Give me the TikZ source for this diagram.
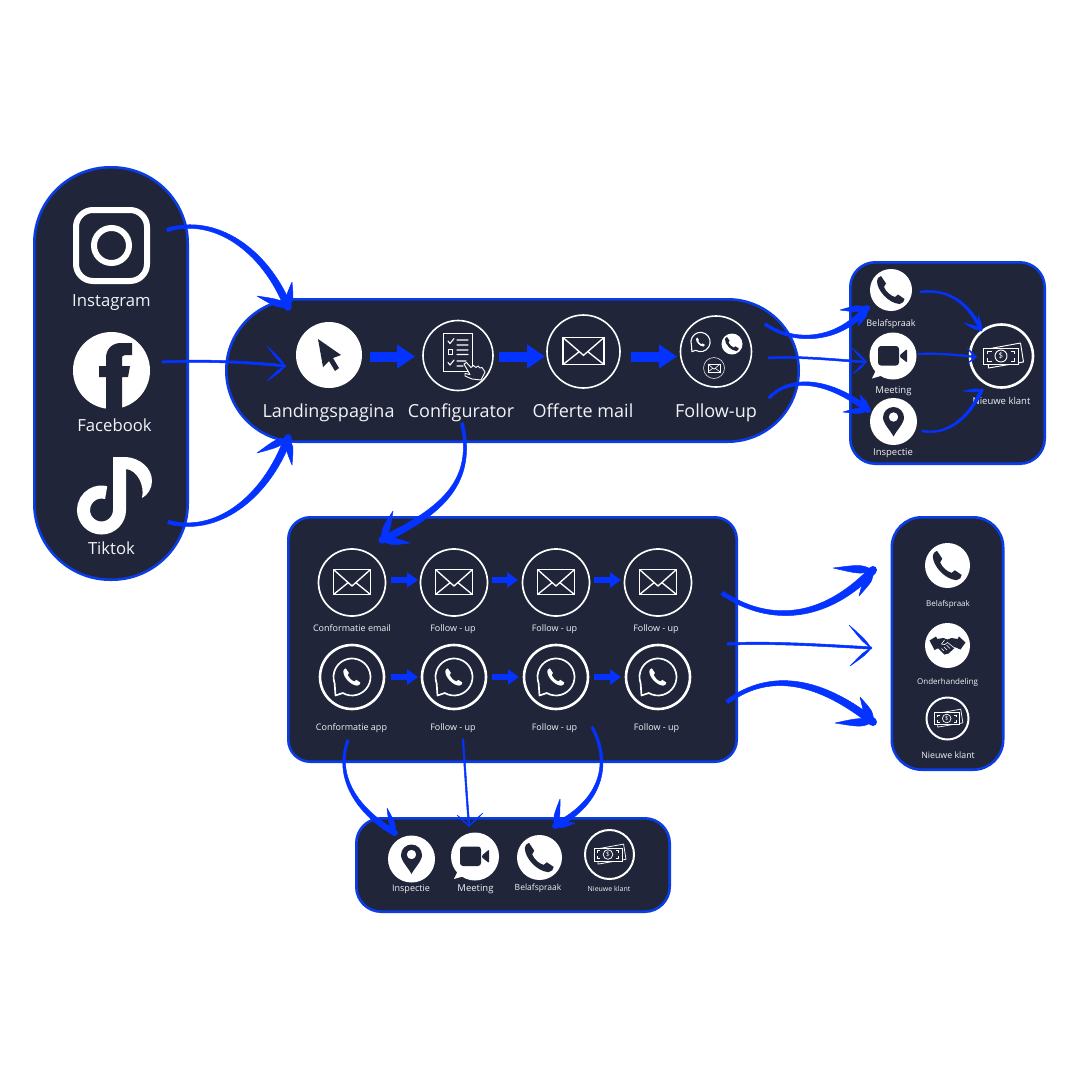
\documentclass[tikz,border=0pt]{standalone}
\usepackage{fontspec}
\setmainfont{Open Sans}
\usetikzlibrary{calc,arrows.meta}
\definecolor{panel}{HTML}{20253A}
\definecolor{edge}{HTML}{0B3DE6}
\definecolor{hblue}{HTML}{0433FF}
\definecolor{txt}{HTML}{F2F3F6}
\tikzset{
  box/.style={draw=edge,fill=panel,line width=2.6pt,rectangle,inner sep=0pt,outer sep=0pt},
  disc/.style={circle,fill=white,inner sep=0pt,outer sep=0pt,minimum size=#1},
  ring/.style={circle,draw=white,fill=panel,inner sep=0pt,outer sep=0pt,minimum size=#1},
  lab/.style={text=txt,inner sep=0pt,anchor=base,font=\fontsize{#1}{#1}\selectfont},
  hand/.style={fill=hblue,draw=hblue,line width=.5pt,line join=round},
  blockbig/.style={draw=hblue,line width=10pt,-{Triangle[length=18pt,width=23pt]}},
  blocksmall/.style={draw=hblue,line width=6.5pt,-{Triangle[length=11pt,width=15pt]}},
  ico/.style={line join=round,line cap=round},
}
% tapered hand-drawn connector: start, c1, c2, end, w0, w1, barb1, barb2, barb width
\newcommand{\handarrow}[9]{%
  \coordinate (hA) at (#1);\coordinate (hC) at (#2);\coordinate (hD) at (#3);\coordinate (hB) at (#4);
  \pgfmathsetmacro{\hwa}{#5}\pgfmathsetmacro{\hwb}{#6}\pgfmathsetmacro{\hwc}{#5*.6+#6*.4}\pgfmathsetmacro{\hwd}{#5*.15+#6*.85}
  \path[hand] ($(hA)!\hwa pt!90:(hC)$) .. controls ($(hC)!\hwc pt!90:(hD)$) and ($(hD)!\hwd pt!90:(hB)$) .. ($(hB)!\hwb pt!-90:(hD)$)
     -- ($(hB)!\hwb pt!90:(hD)$) .. controls ($(hD)!\hwd pt!-90:(hB)$) and ($(hC)!\hwc pt!-90:(hD)$) .. ($(hA)!\hwa pt!-90:(hC)$) -- cycle;
  \fill[hblue] (hB) circle[radius=\hwb*1.05];
  \coordinate (hE) at (#7);\coordinate (hF) at (#8);
  \coordinate (hM) at ($(hB)!.3!(hE)$);
  \path[hand] (hB) .. controls ($(hM)!#9pt!90:(hE)$) .. (hE) .. controls ($(hM)!#9pt!-90:(hE)$) .. (hB);
  \coordinate (hM) at ($(hB)!.3!(hF)$);
  \path[hand] (hB) .. controls ($(hM)!#9pt!90:(hF)$) .. (hF) .. controls ($(hM)!#9pt!-90:(hF)$) .. (hB);
}
\newcommand{\phoneglyph}[4]{\begin{scope}[shift={(#1,#2)},scale=#3]
  \fill[#4] (-10,-14) -- (-5,-6.5) -- (-7,-3) .. controls (-5,2) and (0,6) .. (4,7) -- (7,4.5) -- (13.5,9) .. controls (13.5,11) and (11.5,14) .. (8.5,14) .. controls (-3,13) and (-14,0) .. (-14,-9) .. controls (-14,-11) and (-12.5,-13.5) .. (-10,-14) -- cycle;
\end{scope}}
\newcommand{\envglyph}[5]{\begin{scope}[shift={(#1,#2)}]% cx cy w h lw
  \draw[white,line width=#5pt,line join=miter] (-#3/2,-#4/2) rectangle (#3/2,#4/2);
  \draw[white,line width=.75*#5pt] (-#3/2,-#4/2) -- (0,#4*.16) -- (#3/2,-#4/2) (-#3/2,#4/2) -- (-#3*.1,#4*.02) (#3/2,#4/2) -- (#3*.1,#4*.02);
\end{scope}}
\newcommand{\waglyph}[4]{\begin{scope}[shift={(#1,#2)},scale=#3]% r=18.5 at scale 1
  \draw[white,line width=#4pt,line join=round] (-9.25,16) arc[start angle=120,end angle=-200,radius=18.5] -- (-16.5,18.5) -- cycle;
  \phoneglyph{0}{0}{.62}{white}
\end{scope}}
\newcommand{\pinglyph}[3]{\begin{scope}[shift={(#1,#2)},scale=#3]
  \fill[panel,even odd rule] (0,15) .. controls (-3,9) and (-10.5,2) .. (-10.5,-4) arc[start angle=180,end angle=360,radius=10.5] .. controls (10.5,2) and (3,9) .. (0,15) -- cycle (0,-4.5) circle[radius=4.8];
\end{scope}}
\newcommand{\camglyph}[3]{\begin{scope}[shift={(#1,#2)},scale=#3]
  \fill[white] (-21,22.5) -- (-16,12) -- (-9,19) -- cycle;
  \fill[panel,rounded corners=3pt] (-15,-10) rectangle (6,9.5);
  \fill[panel,rounded corners=1pt] (7,-1) -- (14,-7) -- (14,6.5) -- (7,1) -- cycle;
\end{scope}}
\newcommand{\moneyglyph}[3]{\begin{scope}[shift={(#1,#2)},scale=#3]
  \pgfmathsetmacro{\mlw}{.95*#3}\pgfmathsetmacro{\mfs}{8*#3}
  \draw[white,line width=\mlw pt,fill=panel,line join=round] (-16,-7) -- (17,-13) -- (20,6) -- (-15,12) -- cycle;
  \draw[white,line width=\mlw pt,fill=panel] (-20,-8) rectangle (15,8);
  \draw[white,line width=\mlw pt] (-16,-2) -- (-16,-5) -- (-12,-5) (11,-2) -- (11,-5) -- (7,-5) (-16,2) -- (-16,5) -- (-12,5) (11,2) -- (11,5) -- (7,5);
  \draw[white,line width=\mlw pt] (-2.5,0) circle[radius=6];
  \node[text=white,inner sep=0pt,font=\fontsize{\mfs}{\mfs}\selectfont] at (-2.5,0) {\$};
\end{scope}}
\newcommand{\shakeglyph}[3]{\begin{scope}[shift={(#1,#2)},scale=#3]
  \fill[panel] (-18,-5) -- (-11.5,-9) -- (-6,1) -- (-13,4.5) -- cycle;
  \fill[panel] (18,-3) -- (11.5,-9) -- (6,1) -- (13,4) -- cycle;
  \fill[panel,line join=round] (-11,-6.5) -- (-4,-7.5) -- (0,-6) -- (4,-7.5) -- (10.5,-6.5) -- (6.5,.5) -- (7,2.5) -- (1,8) -- (-3,9) -- (-7,5) -- (-10,2) -- cycle;
  \draw[white,line width=.6pt,line cap=round] (-3,-5.5) -- (-6,-1.5) .. controls (-4,0) and (-2,-1) .. (0,-3) -- (7,2.5);
  \draw[white,line width=.6pt,line cap=round] (-6,3) -- (-3.5,5.5) (-3.5,1.5) -- (-.5,4.5) (-1,-.5) -- (2.5,3);
\end{scope}}
\begin{document}
\begin{tikzpicture}[x=1pt,y=-1pt]
\useasboundingbox (0,0) rectangle (1080,1080);
\fill[white] (0,0) rectangle (1080,1080);
% panels
\node[box,rounded corners=76pt,minimum width=153.4pt,minimum height=412.4pt] (social) at (111,373.5) {};
\node[box,rounded corners=71pt,minimum width=572.4pt,minimum height=142.4pt] (main) at (512.5,370.5) {};
\node[box,rounded corners=25pt,minimum width=194.4pt,minimum height=201.4pt] (outcome) at (947.5,363) {};
\node[box,rounded corners=22pt,minimum width=448.4pt,minimum height=244.4pt] (follow) at (512.5,639.5) {};
\node[box,rounded corners=30pt,minimum width=111.4pt,minimum height=252.4pt] (closing) at (947.5,643.5) {};
\node[box,rounded corners=25pt,minimum width=313.4pt,minimum height=93.4pt] (visit) at (513,865) {};
% Instagram
\draw[white,line width=6pt,rounded corners=17pt] (76,210) rectangle (147,281);
\node[circle,draw=white,line width=6pt,minimum size=35pt,inner sep=0pt,outer sep=0pt] (ig) at (111.5,245.5) {};
\node[lab=16.7] (tig) at (111.5,306) {Instagram};
% Facebook
\node[disc=77pt] (fb) at (111.5,370.5) {};
\fill[panel] (106,409) -- (106,377) -- (99,377) -- (99,366) -- (106,366) -- (106,358) .. controls (106,349) and (112,343) .. (121,343) -- (132,343) -- (132,355) -- (125,355) .. controls (122,355) and (122,357) .. (122,359) -- (122,366) -- (130,366) -- (128,377) -- (122,377) -- (122,409) -- cycle;
\node[lab=16.7] (tfb) at (114.5,431.5) {Facebook};
% Tiktok
\coordinate (tk) at (101.5,510);
\draw[white,line width=13pt] (119.5,457) -- (119.5,510) arc[start angle=0,end angle=285,radius=18];
\fill[white] (126,457) .. controls (140,458) and (152,468) .. (152,481) .. controls (152,488) and (148,495) .. (142,498) .. controls (145,485) and (137,470) .. (126,469) -- cycle;
\node[lab=16.7] (ttk) at (111.5,554) {Tiktok};
% main row
\node[disc=66pt] (cursor) at (329,355) {};
\fill[panel,line join=round] (318,339) -- (341,355) -- (333,358) -- (339,368) -- (335,371) -- (329,361) -- (323,367) -- cycle;
\node[ring=70pt,line width=1.6pt] (config) at (458,355.5) {};
\draw[white,line width=1pt] (443,333) rectangle (472,371);
\draw[white,line width=1.1pt,ico] (448,341) -- (450,343.5) -- (454,338.5) (448,362.5) -- (450,365) -- (454,360) (457,340) -- (468,340) (457,345) -- (468,345) (457,350) -- (468,350) (457,354.5) -- (468,354.5) (457,361) -- (466,361) (457,366) -- (463,366);
\draw[white,line width=1pt] (448,349.5) rectangle (452.5,354.5);
\draw[white,fill=panel,line width=.9pt,ico] (464,364) -- (466.5,362.5) -- (471,367.5) -- (473.5,365.5) -- (476,367.5) -- (478,366) -- (480,368) -- (482,367.5) -- (485,372) -- (481,380) -- (472,379) -- (465,376) -- (465,373.5) -- (470,374.5) -- cycle;
\node[ring=73pt,line width=1.6pt] (offerte) at (583.5,351.5) {};
\envglyph{583.5}{351}{41}{27}{1.8}
\node[ring=71pt,line width=1.6pt] (followup) at (716,351.5) {};
\waglyph{700.5}{342}{.52}{1.1}
\node[disc=21pt] (fphone) at (732,344) {};
\phoneglyph{732}{344}{.5}{panel}
\node[ring=21pt,line width=.5pt] (fmail) at (714,368) {};
\envglyph{714}{368}{12}{8}{.8}
\node[lab=18] (t1) at (328.5,417) {Landingspagina};
\node[lab=18] (t2) at (461,417) {Configurator};
\node[lab=18] (t3) at (583,417) {Offerte mail};
\node[lab=18] (t4) at (716,417) {Follow-up};
\coordinate (b1a) at (370,356.5);\coordinate (b1b) at (415,356.5);
\coordinate (b2a) at (499,356.5);\coordinate (b2b) at (545,356.5);
\coordinate (b3a) at (631,356.5);\coordinate (b3b) at (677,356.5);
\draw[blockbig] (b1a) -- (b1b);
\draw[blockbig] (b2a) -- (b2b);
\draw[blockbig] (b3a) -- (b3b);
% outcome panel
\node[disc=42pt] (op) at (891,290) {};
\phoneglyph{891}{290}{1}{panel}
\node[lab=9] (top) at (891,326) {Belafspraak};
\node[disc=47pt] (om) at (893,356) {};
\camglyph{893}{356}{1}
\node[lab=9.5] (tom) at (893.5,393) {Meeting};
\node[disc=47pt] (oi) at (893.5,421.5) {};
\pinglyph{893.5}{421.5}{1}
\node[lab=9.5] (toi) at (893,455) {Inspectie};
\node[ring=63pt,line width=2.6pt] (on) at (1001.5,356) {};
\moneyglyph{1003.5}{356}{1}
\node[lab=9.5] (ton) at (1001.5,404.3) {Nieuwe klant};
% follow panel
\foreach \n/\x in {a/352,b/454,c/556,d/658}{
  \node[ring=67pt,line width=1.7pt] (m\n) at (\x,582.5) {};
  \envglyph{\x}{582}{37}{25}{1.8}
  \node[ring=64pt,line width=2.6pt] (w\n) at (\x,677) {};
  \waglyph{\x}{677}{1}{1.7}
}
\node[lab=9] (tma) at (352,631.4) {Conformatie email};
\node[lab=9] (tmb) at (453,631.4) {Follow - up};
\node[lab=9] (tmc) at (554.5,631.4) {Follow - up};
\node[lab=9] (tmd) at (656,631.4) {Follow - up};
\node[lab=9] (twa) at (351.5,730) {Conformatie app};
\node[lab=9] (twb) at (453,730) {Follow - up};
\node[lab=9] (twc) at (554.5,730) {Follow - up};
\node[lab=9] (twd) at (656.5,730) {Follow - up};
\foreach \p/\xa/\xb/\y in {s1/391/418/580,s2/492/518/580,s3/594/621/580,s4/391/418/677,s5/492/519/677,s6/594/621/677}{
  \coordinate (\p a) at (\xa,\y);\coordinate (\p b) at (\xb,\y);
  \draw[blocksmall] (\p a) -- (\p b);
}
% closing panel
\node[disc=45pt] (cp) at (947.5,565.5) {};
\phoneglyph{947.5}{565.5}{1.05}{panel}
\node[lab=8] (tcp) at (948,606) {Belafspraak};
\node[disc=45pt] (cs) at (947.5,645.5) {};
\shakeglyph{947.5}{645.5}{1}
\node[lab=8] (tcs) at (947.5,684) {Onderhandeling};
\node[ring=42pt,line width=2pt] (cn) at (947.5,718.5) {};
\moneyglyph{948.5}{718.5}{.72}
\node[lab=8.8] (tcn) at (948,758.4) {Nieuwe klant};
% visit panel
\node[disc=47pt] (vi) at (411.5,859) {};
\pinglyph{411.5}{859}{1}
\node[lab=9] (tvi) at (411,891.5) {Inspectie};
\node[disc=48pt] (vm) at (475,856.5) {};
\camglyph{475}{856.5}{1}
\node[lab=9.5] (tvm) at (475.5,891.5) {Meeting};
\node[disc=45pt] (vp) at (539.5,857.5) {};
\phoneglyph{539.5}{857.5}{1.05}{panel}
\node[lab=8.5] (tvp) at (538,890) {Belafspraak};
\node[ring=49pt,line width=2pt] (vn) at (609.5,854.5) {};
\moneyglyph{610}{854.5}{.8}
\node[lab=7] (tvn) at (609,891) {Nieuwe klant};
% hand-drawn connectors
\coordinate (ig1) at (167,230);\coordinate (ig2) at (288,307);
\coordinate (fb1) at (162,362);\coordinate (fb2) at (285,366);
\coordinate (tk1) at (168,522);\coordinate (tk2) at (288,438);
\coordinate (cf1) at (462,423);\coordinate (cf2) at (382,540);
\handarrow{ig1}{215,215}{265,250}{ig2}{1.8}{3.6}{257,296}{292,282}{4.5}
\handarrow{fb1}{200,360}{250,362}{fb2}{1.1}{1.2}{267,346}{267,381}{1.6}
\handarrow{tk1}{215,535}{265,500}{tk2}{1.8}{3.6}{257,453}{292,465}{4.5}
\handarrow{cf1}{475,480}{445,510}{cf2}{1.6}{3.4}{410,543}{393,511}{4.5}
\coordinate (o1) at (765,324);\coordinate (o2) at (867,308);
\coordinate (o3) at (768,358);\coordinate (o4) at (866,362);
\coordinate (o5) at (769,398);\coordinate (o6) at (868,410);
\handarrow{o1}{790,342}{835,345}{o2}{1.4}{3}{840,310}{858,326}{4}
\handarrow{o3}{800,356}{835,360}{o4}{1}{1}{852,348}{853,374}{1.2}
\handarrow{o5}{790,375}{830,380}{o6}{1.3}{2.8}{860,395}{843,412}{3.6}
\coordinate (p1) at (920,292);\coordinate (p2) at (981,330);
\coordinate (p3) at (918,354);\coordinate (p4) at (976,357);
\coordinate (p5) at (922,431);\coordinate (p6) at (982,390);
\handarrow{p1}{950,288}{970,305}{p2}{.9}{1.5}{964,323}{978,315}{2}
\handarrow{p3}{938,353}{958,355}{p4}{.8}{.8}{967,348}{968,363}{.9}
\handarrow{p5}{950,436}{970,415}{p6}{.9}{1.5}{963,391}{973,405}{2}
\coordinate (q1) at (722,593);\coordinate (q2) at (873,570);
\coordinate (q3) at (727,644);\coordinate (q4) at (871,648);
\coordinate (q5) at (727,702);\coordinate (q6) at (873,722);
\handarrow{q1}{770,625}{825,620}{q2}{2}{3.8}{833,568}{859,596}{5}
\handarrow{q3}{770,642}{820,645}{q4}{1.2}{1.2}{849,625}{850,666}{1.8}
\handarrow{q5}{770,670}{820,680}{q6}{2}{3.8}{835,723}{860,697}{5}
\coordinate (r1) at (348,740);\coordinate (r2) at (395,833);
\coordinate (r3) at (463,739);\coordinate (r4) at (469,826);
\coordinate (r5) at (592,727);\coordinate (r6) at (555,826);
\handarrow{r1}{335,775}{355,810}{r2}{1.2}{2.8}{370,818}{387,808}{3.6}
\handarrow{r3}{465,770}{467,800}{r4}{.8}{.8}{457,815}{483,813}{.8}
\handarrow{r5}{610,760}{605,800}{r6}{1.2}{2.8}{560,799}{575,823}{3.6}
\end{tikzpicture}
\end{document}
